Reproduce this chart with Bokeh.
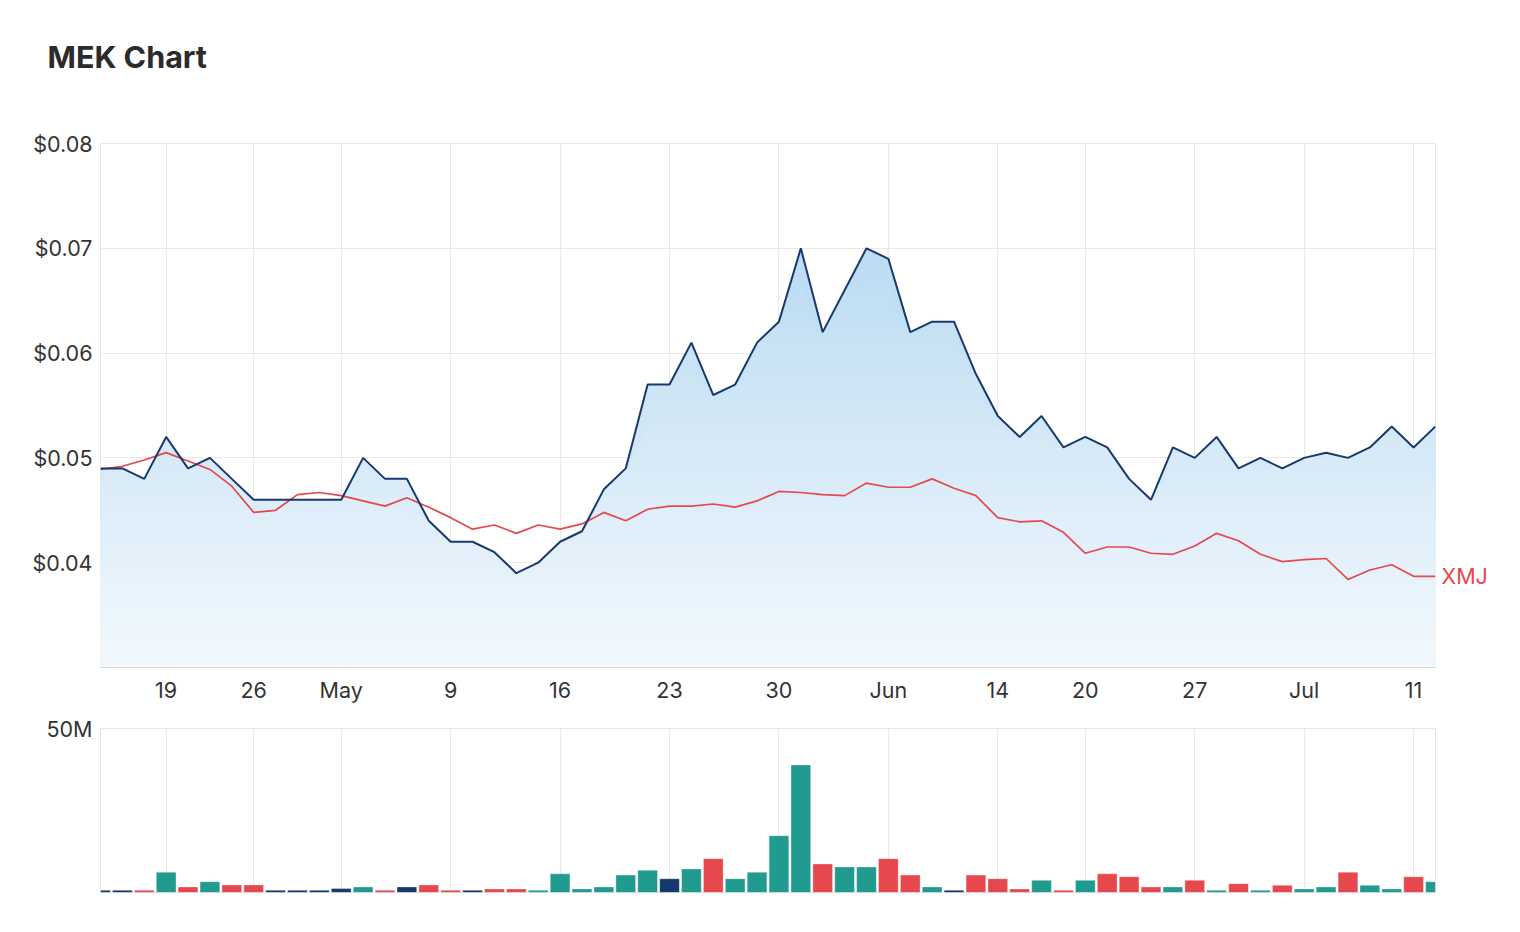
import numpy as np
from bokeh.plotting import figure
from bokeh.layouts import column
from bokeh.models import FixedTicker, NumeralTickFormatter, Range1d, ColumnDataSource, LinearAxis
from bokeh.embed import file_html
from bokeh.resources import INLINE

# ---- data ----
mek = [0.049, 0.049, 0.048, 0.052, 0.049, 0.050, 0.048, 0.046, 0.046, 0.046,
       0.046, 0.046, 0.050, 0.048, 0.048, 0.044, 0.042, 0.042, 0.041, 0.039,
       0.040, 0.042, 0.043, 0.047, 0.049, 0.057, 0.057, 0.061, 0.056, 0.057,
       0.061, 0.063, 0.070, 0.062, 0.066, 0.070, 0.069, 0.062, 0.063, 0.063,
       0.058, 0.054, 0.052, 0.054, 0.051, 0.052, 0.051, 0.048, 0.046, 0.051,
       0.050, 0.052, 0.049, 0.050, 0.049, 0.050, 0.0505, 0.050, 0.051, 0.053,
       0.051, 0.053]
xmj = [0.0489, 0.0492, 0.0498, 0.0505, 0.0497, 0.0489, 0.0473, 0.0448, 0.0450, 0.0465,
       0.0467, 0.0464, 0.0459, 0.0454, 0.0462, 0.0453, 0.0443, 0.0432, 0.0436, 0.0428,
       0.0436, 0.0432, 0.0437, 0.0448, 0.0440, 0.0451, 0.0454, 0.0454, 0.0456, 0.0453,
       0.0459, 0.0468, 0.0467, 0.0465, 0.0464, 0.0476, 0.0472, 0.0472, 0.0480, 0.0471,
       0.0464, 0.0443, 0.0439, 0.0440, 0.0429, 0.0409, 0.0415, 0.0415, 0.0409, 0.0408,
       0.0416, 0.0428, 0.0421, 0.0408, 0.0401, 0.0403, 0.0404, 0.0384, 0.0393, 0.0398,
       0.0387, 0.0387]
volume_m = [0.7, 0.7, 0.7, 6.2, 1.7, 3.3, 2.3, 2.3, 0.7, 0.7,
            0.7, 1.2, 1.7, 0.7, 1.7, 2.3, 0.7, 0.7, 1.1, 1.1,
            0.7, 5.7, 1.1, 1.7, 5.3, 6.8, 4.2, 7.2, 10.3, 4.2,
            6.2, 17.3, 38.9, 8.7, 7.8, 7.8, 10.3, 5.3, 1.7, 0.7,
            5.3, 4.2, 1.1, 3.7, 0.7, 3.7, 5.7, 4.8, 1.7, 1.7,
            3.7, 0.7, 2.7, 0.7, 2.2, 1.1, 1.7, 6.2, 2.2, 1.1,
            4.8, 3.3]
tick_positions = [3, 7, 11, 16, 21, 26, 31, 36, 41, 45, 50, 55, 60]
tick_labels = ["19", "26", "May", "9", "16", "23", "30", "Jun", "14", "20", "27", "Jul", "11"]
price_ticks = [0.04, 0.05, 0.06, 0.07, 0.08]
index_name = "XMJ"
chart_title = "MEK Chart"

FONT = "Inter"
TXT = "#333333"
NAVY = "#17396e"
RED = "#e5484d"
TEAL = "#219a90"
GRID = "#e9e9e9"
LBL = "21.5px"
W = 1504

n = len(mek)
idx = np.arange(n)
mek_a = np.array(mek)

# ---- title strip ----
t = figure(width=W, height=120, x_range=Range1d(0, 1), y_range=Range1d(0, 1),
           toolbar_location=None, output_backend="svg", title=chart_title,
           x_axis_location=None, y_axis_location=None,
           min_border_left=100, min_border_right=69, min_border_top=0, min_border_bottom=0)
t.grid.visible = False
t.outline_line_color = None
t.title.text_font = FONT
t.title.text_font_size = "30.5px"
t.title.text_font_style = "bold"
t.title.text_color = "#2b2b2b"
t.title.align = "left"
t.title.offset = -53
t.title.standoff = 70

# ---- price figure ----
p = figure(width=W, height=585, x_range=Range1d(0, n - 1), y_range=Range1d(0.03, 0.08),
           toolbar_location=None, output_backend="svg",
           min_border_left=100, min_border_right=69, min_border_top=23, min_border_bottom=36)
p.outline_line_color = "#e6e6e6"

# gradient area under MEK line, built from stacked layers
y_lo, y_hi = 0.03, 0.07
c_top = np.array([188, 220, 242])
c_bot = np.array([243, 249, 254])
levels = np.round(np.arange(0.071, 0.0305, -0.001), 4)
for hi in levels:
    f = min(max((hi - 0.0005 - y_lo) / (y_hi - y_lo), 0), 1)
    c = (c_bot + (c_top - c_bot) * f).astype(int)
    col = "#%02x%02x%02x" % tuple(c)
    p.varea(x=idx, y1=np.full(n, 0.03), y2=np.minimum(mek_a, hi), fill_color=col)

p.line(idx, xmj, line_color=RED, line_width=1.7)
p.line(idx, mek, line_color=NAVY, line_width=2)

# series name of the index, placed at its last value on a right-hand axis
name_axis = LinearAxis(ticker=FixedTicker(ticks=[xmj[-1]]),
                       major_label_overrides={xmj[-1]: index_name})
name_axis.axis_line_color = None
name_axis.major_tick_line_color = None
name_axis.minor_tick_line_color = None
name_axis.major_label_text_color = RED
name_axis.major_label_text_font = FONT
name_axis.major_label_text_font_size = LBL
name_axis.major_label_standoff = 0
p.add_layout(name_axis, "right")

p.xaxis[0].ticker = FixedTicker(ticks=tick_positions)
p.xaxis[0].major_label_overrides = {k: v for k, v in zip(tick_positions, tick_labels)}
p.xaxis[0].major_tick_line_color = None
p.xaxis[0].minor_tick_line_color = None
p.xaxis[0].axis_line_color = "#d8d8d8"
p.xaxis[0].major_label_text_font = FONT
p.xaxis[0].major_label_text_font_size = LBL
p.xaxis[0].major_label_text_color = TXT
p.xaxis[0].major_label_standoff = 3

ya = p.yaxis[0]
ya.ticker = FixedTicker(ticks=price_ticks)
ya.formatter = NumeralTickFormatter(format="$0.00")
ya.major_tick_line_color = None
ya.minor_tick_line_color = None
ya.axis_line_color = None
ya.major_label_text_font = FONT
ya.major_label_text_font_size = LBL
ya.major_label_text_color = TXT
ya.major_label_standoff = 2

p.xgrid.ticker = FixedTicker(ticks=tick_positions)
p.xgrid.grid_line_color = GRID
p.ygrid.ticker = FixedTicker(ticks=price_ticks)
p.ygrid.grid_line_color = GRID

# ---- volume figure ----
vol = np.array(volume_m) * 1e6
colors = [NAVY]
for i in range(1, n):
    if mek[i] > mek[i - 1]:
        colors.append(TEAL)
    elif mek[i] < mek[i - 1]:
        colors.append(RED)
    else:
        colors.append(NAVY)
src = ColumnDataSource(dict(x=idx, top=vol, color=colors))

v = figure(width=W, height=197, x_range=p.x_range, y_range=Range1d(0, 50e6),
           toolbar_location=None, output_backend="svg",
           min_border_left=100, min_border_right=69, min_border_top=23, min_border_bottom=10)
v.outline_line_color = "#e6e6e6"
v.vbar(x="x", top="top", bottom=0, width=0.9, fill_color="color", line_color="white",
       line_alpha=0.35, line_width=1, source=src)
v.xaxis.visible = False
v.yaxis.ticker = FixedTicker(ticks=[50e6])
v.yaxis.major_label_overrides = {50000000: "50M"}
v.yaxis.major_tick_line_color = None
v.yaxis.minor_tick_line_color = None
v.yaxis.axis_line_color = None
v.yaxis.major_label_text_font = FONT
v.yaxis.major_label_text_font_size = LBL
v.yaxis.major_label_text_color = TXT
v.yaxis.major_label_standoff = 2
v.xgrid.ticker = FixedTicker(ticks=tick_positions)
v.xgrid.grid_line_color = GRID
v.ygrid.ticker = FixedTicker(ticks=[50e6])
v.ygrid.grid_line_color = GRID

layout = column(t, p, v, spacing=0)
open("out.html", "w").write(file_html(layout, INLINE))
